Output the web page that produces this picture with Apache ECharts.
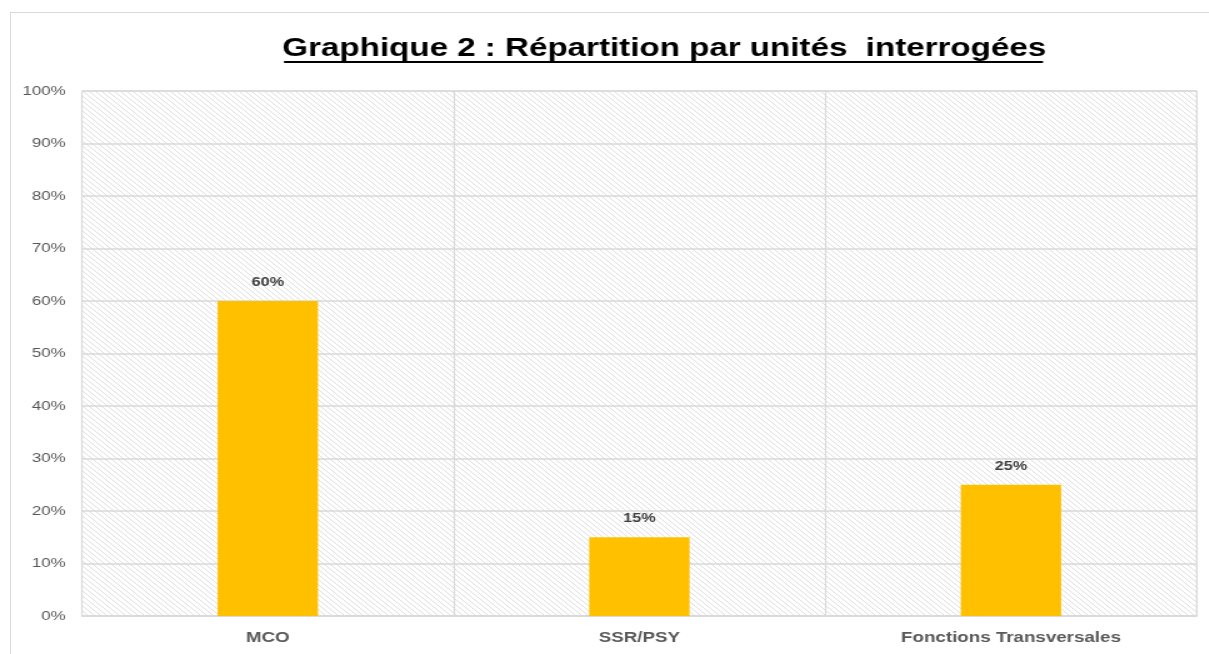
<!DOCTYPE html>
<html><head><meta charset="utf-8">
<script src="https://cdn.jsdelivr.net/npm/echarts@6/dist/echarts.min.js"></script>
<style>
html,body{margin:0;padding:0;background:#fff;overflow:hidden;}
#frame{position:absolute;left:10px;top:12px;width:1300px;height:700px;border:1px solid #d9d9d9;box-sizing:border-box;}
#c{position:absolute;left:0;top:0;width:967px;height:654px;transform:scaleX(1.25);transform-origin:0 0;}
</style></head>
<body>
<div id="frame"></div>
<div id="c"></div>
<script>
const titleText = 'Graphique 2 : Répartition par unités  interrogées';
const categories = ['MCO', 'SSR/PSY', 'Fonctions Transversales'];
const values = [60, 15, 25];
const yTicks = [0,10,20,30,40,50,60,70,80,90,100];

const S = 1.25;
function hatch(){
  const c = document.createElement('canvas');
  c.width = 5; c.height = 5;
  const g = c.getContext('2d');
  g.fillStyle = '#ffffff'; g.fillRect(0,0,5,5);
  g.strokeStyle = '#e0e0e0'; g.lineWidth = 1;
  for (let k=-5;k<=10;k+=5){
    g.beginPath(); g.moveTo(k,0); g.lineTo(k+5,5); g.stroke();
  }
  return c;
}

const chart = echarts.init(document.getElementById('c'), null, {renderer:'canvas'});
chart.setOption({
  animation:false,
  backgroundColor:'transparent',
  title:{
    text:titleText, left:658/S, top:30, textAlign:'center',
    textStyle:{fontFamily:'Liberation Sans, Arial', fontSize:26.5, fontWeight:'bold', color:'#000'}
  },
  graphic:[{type:'line', shape:{x1:284/S,y1:62,x2:1043/S,y2:62}, style:{stroke:'#000', lineWidth:2}}],
  grid:{left:82/S, right:12/S, top:91, bottom:38, show:true,
    backgroundColor:{image:hatch(), repeat:'repeat'},
    borderColor:'#d9d9d9', borderWidth:1},
  xAxis:{type:'category', data:categories,
    axisLine:{show:true, lineStyle:{color:'#d9d9d9', width:1.5}},
    axisTick:{show:false},
    splitLine:{show:true, lineStyle:{color:'#d9d9d9', width:1.2}},
    axisLabel:{color:'#595959', fontFamily:'Liberation Sans, Arial', fontSize:15, fontWeight:'bold', margin:14}
  },
  yAxis:{type:'value', min:0, max:100, interval:10,
    axisLine:{show:false}, axisTick:{show:false},
    splitLine:{lineStyle:{color:'#d9d9d9', width:1.5}},
    axisLabel:{color:'#595959', fontFamily:'Liberation Sans, Arial', fontSize:13.5, margin:13,
      formatter:v=> yTicks.includes(v) ? v+'%' : ''}
  },
  series:[{type:'bar', data:values, barWidth:'27%',
    itemStyle:{color:'#FFC000'},
    label:{show:true, position:'top', distance:12, formatter:p=>p.value+'%',
      color:'#404040', fontFamily:'Liberation Sans, Arial', fontSize:13, fontWeight:'bold'}
  }]
});
</script>
</body></html>
